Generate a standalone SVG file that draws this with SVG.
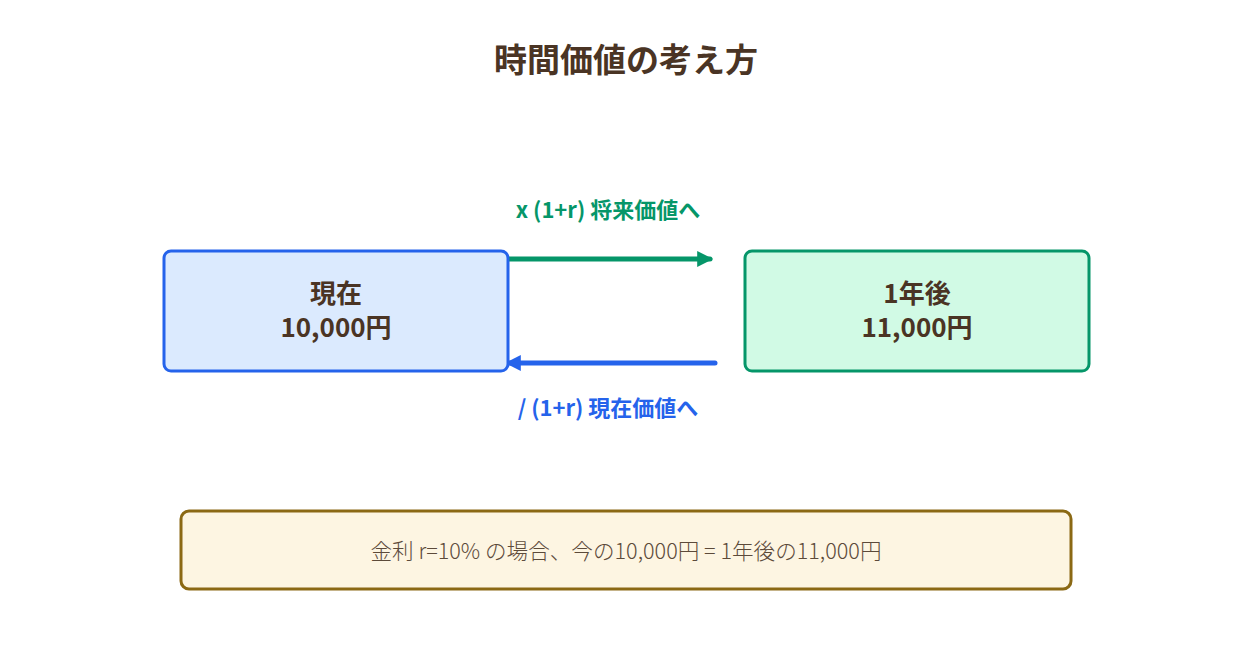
<svg xmlns="http://www.w3.org/2000/svg" width="1252" height="668" viewBox="0 0 1252 668">
<defs>
<style>
text{font-family:"Noto Sans CJK JP","Noto Sans",sans-serif;text-anchor:middle;dominant-baseline:central}
.title{font-size:33px;font-weight:700;fill:#4a3424}
.node{font-size:26px;font-weight:700;fill:#4a3424}
.lbl{font-size:22px;font-weight:700}
.note{font-size:21.6px;font-weight:300;fill:#5c4a3a}
</style>
<marker id="ag" viewBox="0 0 10 10" refX="8" refY="5" markerWidth="3.2" markerHeight="3.2" orient="auto"><path d="M0,0 L10,5 L0,10 z" fill="#059669"/></marker>
<marker id="ab" viewBox="0 0 10 10" refX="8" refY="5" markerWidth="3.2" markerHeight="3.2" orient="auto"><path d="M0,0 L10,5 L0,10 z" fill="#2563eb"/></marker>
</defs>
<rect width="1252" height="668" fill="#fff"/>
<text class="title" x="626" y="58">時間価値の考え方</text>
<g id="connectors">
<line x1="502" y1="259" x2="710" y2="259" stroke="#059669" stroke-width="5" stroke-linecap="round" marker-end="url(#ag)"/>
<line x1="715" y1="363" x2="508" y2="363" stroke="#2563eb" stroke-width="5" stroke-linecap="round" marker-end="url(#ab)"/>
<text class="lbl" x="608" y="208" fill="#059669">x (1+r) 将来価値へ</text>
<text class="lbl" x="608" y="406" fill="#2563eb">/ (1+r) 現在価値へ</text>
</g>
<g id="now">
<rect x="164" y="251" width="344" height="120" rx="7" fill="#dbeafe" stroke="#2563eb" stroke-width="3"/>
<text class="node" x="336" y="291">現在</text>
<text class="node" x="336" y="325">10,000円</text>
</g>
<g id="future">
<rect x="745" y="251" width="344" height="120" rx="7" fill="#d1fae5" stroke="#059669" stroke-width="3"/>
<text class="node" x="917" y="291">1年後</text>
<text class="node" x="917" y="325">11,000円</text>
</g>
<g id="note">
<rect x="181" y="511" width="890" height="78" rx="8" fill="#fdf5e2" stroke="#8b6914" stroke-width="3"/>
<text class="note" x="626" y="549">金利 r=10% の場合、今の10,000円 = 1年後の11,000円</text>
</g>
</svg>
